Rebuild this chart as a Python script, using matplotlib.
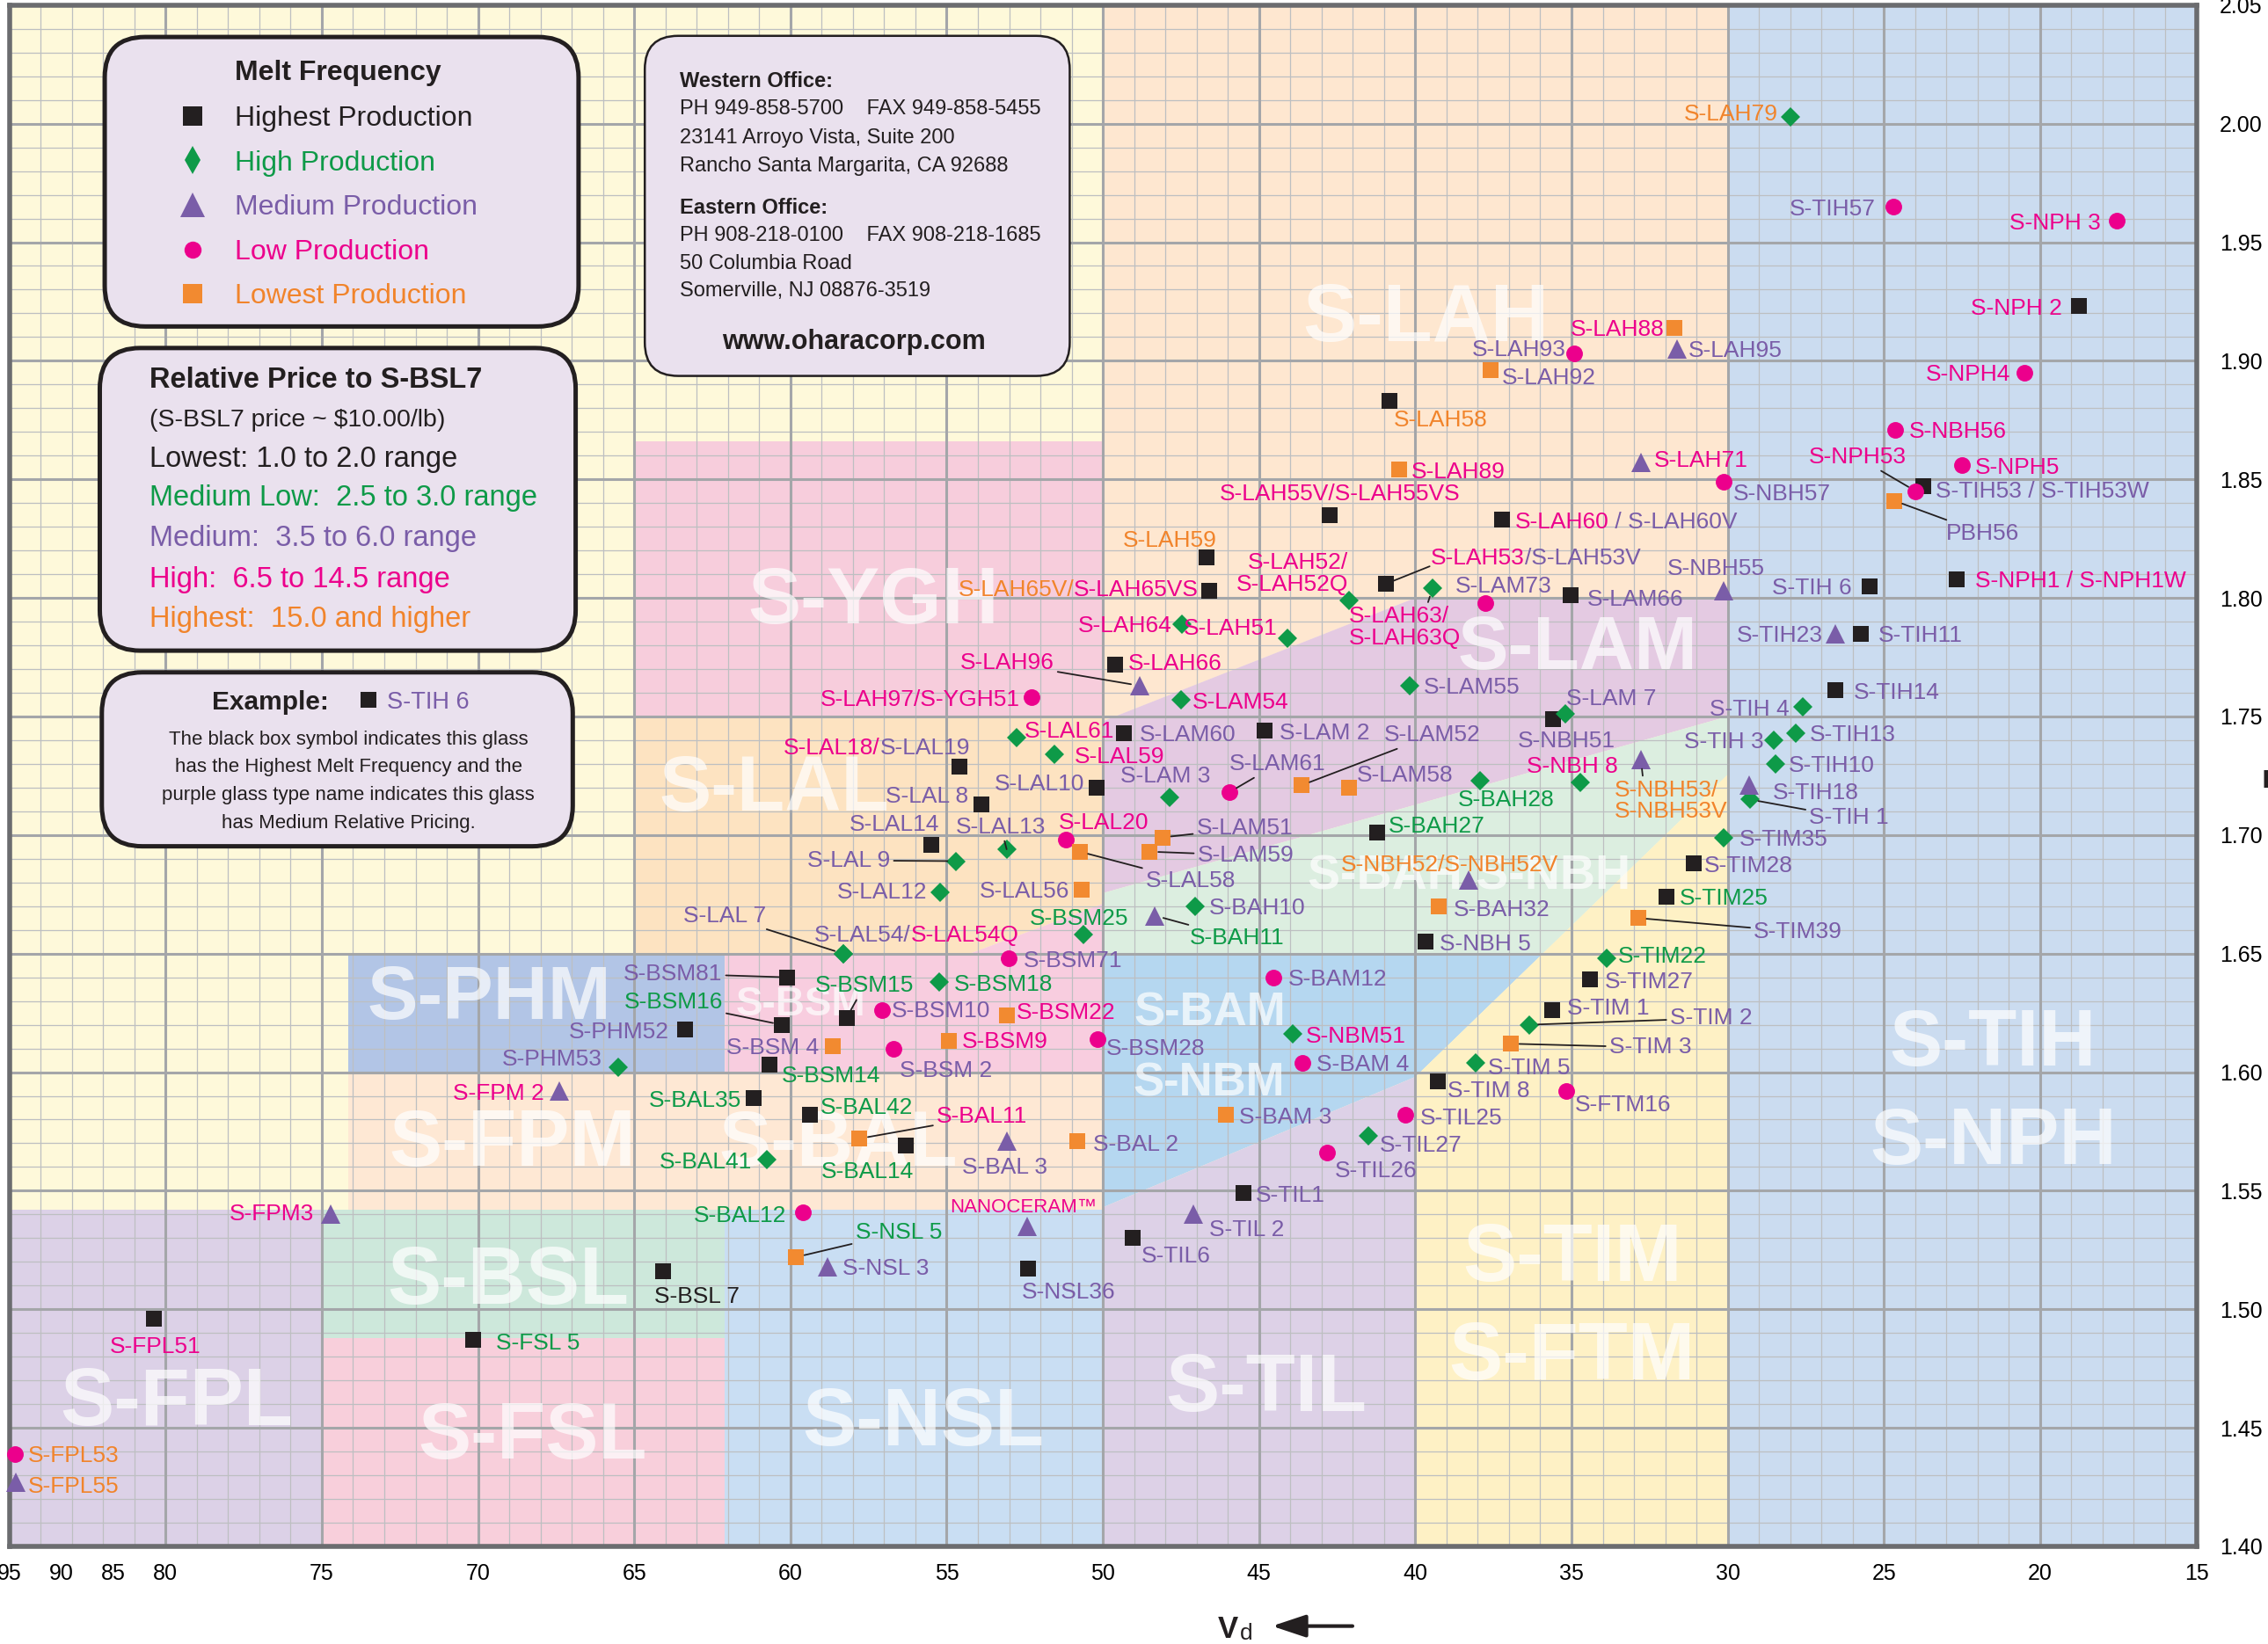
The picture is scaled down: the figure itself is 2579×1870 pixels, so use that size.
import numpy as np
import matplotlib
matplotlib.use("Agg")
import matplotlib.pyplot as plt
from matplotlib.patches import FancyBboxPatch, FancyArrowPatch, Polygon
from matplotlib.lines import Line2D
from matplotlib.ticker import NullLocator
from matplotlib import font_manager

plt.rcParams['font.family'] = ['Liberation Sans', 'DejaVu Sans']
_have = {f.name for f in font_manager.fontManager.ttflist}
NARROW = 'Liberation Sans Narrow' in _have

# ------------------------------------------------------------------ glasses
names = [
    'S-LAH79', 'S-TIH57', 'S-NPH 3', 'S-NPH 2', 'S-NPH4', 'S-NBH56', 'S-NPH5', 'S-TIH53 / S-TIH53W', 'S-NPH53', 'PBH56',
    'S-NBH57', 'S-LAH71', 'S-NPH1 / S-NPH1W', 'S-TIH 6', 'S-NBH55', 'S-TIH23', 'S-TIH11', 'S-TIH14', 'S-TIH 4', 'S-TIH13',
    'S-TIH 3', 'S-TIH10', 'S-TIH18', 'S-TIH 1', 'S-TIM35', 'S-TIM28', 'S-TIM25', 'S-TIM39', 'S-TIM22', 'S-TIM27',
    'S-TIM 1', 'S-TIM 2', 'S-TIM 3', 'S-TIM 5', 'S-TIM 8', 'S-FTM16', 'S-TIL25', 'S-TIL27', 'S-TIL26', 'S-TIL1',
    'S-TIL 2', 'S-TIL6', 'S-BAM 3', 'S-BAL 2', 'S-BAM 4', 'S-NBM51', 'S-BAM12', 'S-BSM28', 'S-NBH 5', 'S-BAH32',
    'S-NBH52/S-NBH52V', 'S-BAH10', 'S-BAH11', 'S-BAH27', 'S-BAH28', 'S-NBH 8', 'S-NBH51', 'S-LAM 7', 'S-NBH53/S-NBH53V', 'S-LAM55',
    'S-LAM66', 'S-LAM73', 'S-LAH53/S-LAH53V', 'S-LAH63/S-LAH63Q', 'S-LAH52/S-LAH52Q', 'S-LAH60/S-LAH60V', 'S-LAH55V/S-LAH55VS', 'S-LAH89', 'S-LAH58', 'S-LAH92',
    'S-LAH93', 'S-LAH88', 'S-LAH95', 'S-LAH59', 'S-LAH65V/S-LAH65VS', 'S-LAH64', 'S-LAH51', 'S-LAH66', 'S-LAH96', 'S-LAM54',
    'S-LAH97/S-YGH51', 'S-LAL61', 'S-LAM60', 'S-LAL59', 'S-LAL18/S-LAL19', 'S-LAL10', 'S-LAM 3', 'S-LAM 2', 'S-LAM61', 'S-LAM52',
    'S-LAM58', 'S-LAL 8', 'S-LAL14', 'S-LAL13', 'S-LAL20', 'S-LAL 9', 'S-LAL12', 'S-LAL56', 'S-LAL58', 'S-LAM51',
    'S-LAM59', 'S-BSM25', 'S-LAL 7', 'S-LAL54/S-LAL54Q', 'S-BSM71', 'S-BSM18', 'S-BSM15', 'S-BSM81', 'S-BSM16', 'S-PHM52',
    'S-PHM53', 'S-BSM10', 'S-BSM22', 'S-BSM9', 'S-BSM 2', 'S-BSM 4', 'S-BSM14', 'S-BAL35', 'S-BAL42', 'S-BAL11',
    'S-BAL14', 'S-BAL 3', 'S-BAL41', 'S-BAL12', 'NANOCERAM™', 'S-NSL 5', 'S-NSL 3', 'S-NSL36', 'S-BSL 7', 'S-FSL 5',
    'S-FPM 2', 'S-FPM3', 'S-FPL51', 'S-FPL53', 'S-FPL55',
]
vd = [
    28.00, 24.70, 17.56, 18.75, 20.51, 24.65, 22.49, 23.73, 23.98, 24.67,
    30.14, 32.78, 22.68, 25.46, 30.14, 26.55, 25.75, 26.56, 27.59, 27.83,
    28.52, 28.47, 29.31, 29.29, 30.14, 31.09, 31.95, 32.87, 33.87, 34.40,
    35.61, 36.34, 36.94, 38.08, 39.29, 35.18, 40.31, 41.50, 42.82, 45.51,
    47.10, 49.05, 46.06, 50.82, 43.62, 43.93, 44.54, 50.17, 39.68, 39.24,
    38.28, 47.06, 48.33, 41.23, 37.94, 34.71, 35.58, 35.21, 32.78, 40.19,
    35.04, 37.76, 40.93, 39.45, 42.11, 37.23, 42.73, 40.51, 40.84, 37.59,
    34.91, 31.71, 31.63, 46.69, 46.61, 47.46, 44.09, 49.62, 48.83, 47.50,
    52.27, 52.75, 49.33, 51.56, 54.58, 50.21, 47.86, 44.81, 45.96, 43.64,
    42.11, 53.90, 55.50, 53.08, 51.18, 54.70, 55.21, 50.69, 50.74, 48.09,
    48.50, 50.62, 58.32, 58.32, 53.01, 55.23, 58.20, 60.10, 60.29, 63.38,
    65.51, 57.08, 53.08, 54.93, 56.69, 58.64, 60.68, 61.18, 59.39, 57.79,
    56.30, 53.08, 60.75, 59.59, 52.42, 59.82, 58.81, 52.40, 64.09, 70.16,
    67.39, 74.72, 81.15, 94.49, 94.40,
]
nd = [
    2.003, 1.965, 1.959, 1.923, 1.895, 1.871, 1.856, 1.847, 1.845, 1.841,
    1.849, 1.857, 1.808, 1.805, 1.803, 1.785, 1.785, 1.761, 1.754, 1.743,
    1.740, 1.730, 1.721, 1.715, 1.699, 1.688, 1.674, 1.665, 1.648, 1.639,
    1.626, 1.620, 1.612, 1.604, 1.596, 1.592, 1.582, 1.573, 1.566, 1.549,
    1.540, 1.530, 1.582, 1.571, 1.604, 1.616, 1.640, 1.614, 1.655, 1.670,
    1.681, 1.670, 1.666, 1.701, 1.723, 1.722, 1.749, 1.751, 1.732, 1.763,
    1.801, 1.798, 1.806, 1.804, 1.799, 1.833, 1.835, 1.854, 1.883, 1.896,
    1.903, 1.914, 1.905, 1.817, 1.803, 1.789, 1.783, 1.772, 1.763, 1.757,
    1.758, 1.741, 1.743, 1.734, 1.729, 1.720, 1.716, 1.744, 1.718, 1.721,
    1.720, 1.713, 1.696, 1.694, 1.698, 1.689, 1.676, 1.677, 1.693, 1.699,
    1.693, 1.658, 1.650, 1.650, 1.648, 1.638, 1.623, 1.640, 1.620, 1.618,
    1.602, 1.626, 1.624, 1.613, 1.610, 1.611, 1.603, 1.589, 1.582, 1.572,
    1.569, 1.571, 1.563, 1.541, 1.535, 1.522, 1.518, 1.517, 1.516, 1.487,
    1.592, 1.540, 1.496, 1.439, 1.427,
]
# melt frequency: A highest ... E lowest
freq = list(
    'BDDADDDADE' 'DCAACCAABB' 'BBCBBAAEBA' 'ABEBADDBDA' 'CAEEDBDDAE'
    'CBCABBABCB' 'ADABBAAEAE' 'DECAABBACB' 'DBABAABADE' 'EAABDBBEEE'
    'EBBBDBAAAA' 'BDEEDEAAAE' 'ACBDCECAAA' 'CCADC'
)
# relative price class: 1 lowest ... 5 highest
price = [
    5, 3, 4, 4, 4, 4, 4, 3, 4, 3,
    3, 4, 4, 3, 3, 3, 3, 3, 3, 3,
    3, 3, 3, 3, 3, 3, 2, 3, 2, 3,
    3, 3, 3, 3, 3, 3, 3, 3, 3, 3,
    3, 3, 3, 3, 3, 4, 3, 3, 3, 3,
    5, 3, 2, 2, 2, 4, 3, 3, 5, 3,
    3, 3, 4, 4, 4, 4, 4, 4, 5, 3,
    3, 4, 3, 5, 5, 4, 4, 4, 4, 4,
    4, 4, 3, 4, 4, 3, 3, 3, 3, 3,
    3, 3, 3, 3, 4, 3, 3, 3, 3, 3,
    3, 2, 3, 3, 3, 2, 2, 3, 2, 3,
    3, 3, 4, 4, 3, 3, 2, 2, 2, 4,
    2, 3, 2, 2, 4, 2, 3, 3, 1, 2,
    4, 4, 4, 5, 5,
]
# labels printed in two price colours
SPLIT = {
    'S-LAH53/S-LAH53V': [('S-LAH53', 4), ('/S-LAH53V', 3)],
    'S-LAH60/S-LAH60V': [('S-LAH60', 4), (' / S-LAH60V', 3)],
    'S-LAH65V/S-LAH65VS': [('S-LAH65V/', 5), ('S-LAH65VS', 4)],
    'S-LAL18/S-LAL19': [('S-LAL18/', 4), ('S-LAL19', 3)],
    'S-LAL54/S-LAL54Q': [('S-LAL54/', 3), ('S-LAL54Q', 4)],
}
SHOW = {
    'S-LAH63/S-LAH63Q': 'S-LAH63/\nS-LAH63Q',
    'S-LAH52/S-LAH52Q': 'S-LAH52/\nS-LAH52Q',
    'S-NBH53/S-NBH53V': 'S-NBH53/\nS-NBH53V',
}

# glass-family background regions (vd, nd corners)
region_colors = ['#FEE7D0', '#CBDCF0', '#F7CDDC', '#FDE3C1', '#E4CAE2', '#DCEEE0', '#F8CDDF', '#B2C5E6',
                 '#B5D7F0', '#FEE8D4', '#DCD1E7', '#CDE8DB', '#F8CFDB', '#C9DEF3', '#DDD1E7', '#FEF1C5']
region_bounds = [
    [(50, 2.05), (30, 2.05), (30, 1.80), (40, 1.80), (50, 1.748)],                       # S-LAH
    [(30, 1.40), (15, 1.40), (15, 2.05), (30, 2.05)],                                    # S-TIH / S-NPH
    [(65, 1.866), (50, 1.866), (50, 1.75), (65, 1.75)],                                  # S-YGH
    [(65, 1.75), (50, 1.75), (50, 1.671), (54.26, 1.65), (65, 1.65)],                    # S-LAL
    [(50, 1.6755), (50, 1.748), (40, 1.80), (30, 1.80), (30, 1.75)],                     # S-LAM
    [(50, 1.65), (50, 1.6755), (30, 1.75), (30, 1.7255), (35.92, 1.65)],                 # S-BAH / S-NBH
    [(62.1, 1.60), (50, 1.60), (50, 1.671), (54.26, 1.65), (62.1, 1.65)],                # S-BSM
    [(74.15, 1.60), (62.1, 1.60), (62.1, 1.65), (74.15, 1.65)],                          # S-PHM
    [(50, 1.543), (40, 1.598), (35.92, 1.65), (50, 1.65)],                               # S-BAM / S-NBM
    [(74.15, 1.542), (50, 1.542), (50, 1.60), (74.15, 1.60)],                            # S-FPM / S-BAL
    [(95, 1.40), (75, 1.40), (75, 1.542), (95, 1.542)],                                  # S-FPL
    [(75, 1.488), (62.1, 1.488), (62.1, 1.542), (75, 1.542)],                            # S-BSL
    [(75, 1.40), (62.1, 1.40), (62.1, 1.488), (75, 1.488)],                              # S-FSL
    [(62.1, 1.40), (50, 1.40), (50, 1.542), (62.1, 1.542)],                              # S-NSL
    [(50, 1.40), (40, 1.40), (40, 1.598), (50, 1.543)],                                  # S-TIL
    [(40, 1.40), (30, 1.40), (30, 1.7255), (40, 1.598)],                                 # S-TIM / S-FTM
]
tag_text = ['S-LAH', 'S-YGH', 'S-LAL', 'S-LAM', 'S-BAH S-NBH', 'S-PHM', 'S-BSM', 'S-BAM', 'S-NBM', 'S-FPM',
            'S-BAL', 'S-BSL', 'S-FPL', 'S-FSL', 'S-NSL', 'S-TIL', 'S-TIM', 'S-FTM', 'S-TIH', 'S-NPH']
tag_vd = [39.65, 57.34, 60.53, 34.79, 38.27, 69.63, 59.68, 46.58, 46.60, 68.91,
          58.46, 69.03, 79.64, 68.26, 55.76, 44.77, 34.98, 34.98, 21.52, 21.49]
tag_nd = [1.9084, 1.7893, 1.7104, 1.7701, 1.6771, 1.6223, 1.6241, 1.6196, 1.5901, 1.5605,
          1.5605, 1.5024, 1.4510, 1.4369, 1.4428, 1.4570, 1.5121, 1.4704, 1.6029, 1.5612]
tag_size = [66, 65, 64, 62, 40, 62, 33, 38, 38, 65, 64, 66, 66, 65, 66, 66, 66, 66, 65, 65]

xticks = [95, 90, 85, 80, 75, 70, 65, 60, 55, 50, 45, 40, 35, 30, 25, 20, 15]
yticks = [1.40, 1.45, 1.50, 1.55, 1.60, 1.65, 1.70, 1.75, 1.80, 1.85, 1.90, 1.95, 2.00, 2.05]

# ------------------------------------------------------------------ styles
INK = '#231F20'
GREEN = '#0E9A48'
PURPLE = '#7A5DA8'
MAGENTA = '#EC008C'
ORANGE = '#F1842B'
PRICE_COLOR = {1: INK, 2: GREEN, 3: PURPLE, 4: MAGENTA, 5: ORANGE}
FREQ_STYLE = {
    'A': dict(marker='s', ms=13.0, color=INK),
    'B': dict(marker='D', ms=11.2, color=GREEN),
    'C': dict(marker='^', ms=16.5, color=PURPLE),
    'D': dict(marker='o', ms=13.6, color=MAGENTA),
    'E': dict(marker='s', ms=13.0, color='#F28A30'),
}
LABEL_FS = 19
K_PT = 1.6447 * 0.72          # reference pixel -> points
K_IN = 1.6447 / 100           # reference pixel -> inches
H_REF = 1137.0

# label layout: kind (r = right of mark, l = left, c = centred), dx, dy (reference px, down +)
LAYOUT = {
    'S-LAH79': ('l', -8.5, -3), 'S-TIH57': ('l', -12, 0), 'S-NPH 3': ('l', -11, 0), 'S-NPH 2': ('l', -12, 0),
    'S-NPH4': ('l', -9.5, 0), 'S-NBH56': ('r', 10, 0), 'S-NPH5': ('r', 9, 0), 'S-TIH53 / S-TIH53W': ('r', 8, 2),
    'S-NPH53': ('c', -40, -25, dict(line=True)), 'PBH56': ('r', 36, 21, dict(line=True)),
    'S-NBH57': ('r', 7, 7), 'S-LAH71': ('r', 9, -3), 'S-NPH1 / S-NPH1W': ('r', 13, 0), 'S-TIH 6': ('l', -12.5, 0),
    'S-NBH55': ('c', -5, -17), 'S-TIH23': ('l', -9, 0), 'S-TIH11': ('r', 12.6, 0), 'S-TIH14': ('r', 13, 0),
    'S-TIH 4': ('l', -9.5, 0), 'S-TIH13': ('r', 9.6, 0), 'S-TIH 3': ('l', -7, 0), 'S-TIH10': ('r', 9, 0),
    'S-TIH18': ('r', 16, 4), 'S-TIH 1': ('r', 41, 11, dict(line=True)), 'S-TIM35': ('r', 11, 0),
    'S-TIM28': ('r', 7, 0), 'S-TIM25': ('r', 9, 0), 'S-TIM39': ('r', 80, 8, dict(line=True)),
    'S-TIM22': ('r', 8, -3), 'S-TIM27': ('r', 10, 0), 'S-TIM 1': ('r', 10, -3),
    'S-TIM 2': ('r', 97, -6, dict(line=True)), 'S-TIM 3': ('r', 68, 1, dict(line=True)),
    'S-TIM 5': ('r', 9, 2), 'S-TIM 8': ('r', 7, 5), 'S-FTM16': ('r', 6.5, 8), 'S-TIL25': ('r', 10, 1),
    'S-TIL27': ('r', 8, 5), 'S-TIL26': ('r', 5, 11), 'S-TIL1': ('r', 8.5, 0), 'S-TIL 2': ('r', 11, 9),
    'S-TIL6': ('r', 6, 11), 'S-BAM 3': ('r', 9, 0), 'S-BAL 2': ('r', 11, 1), 'S-BAM 4': ('r', 10, 0),
    'S-NBM51': ('r', 9, 0), 'S-BAM12': ('r', 10, 0), 'S-BSM28': ('r', 6, 5), 'S-NBH 5': ('r', 10, 0),
    'S-BAH32': ('r', 10, 1), 'S-NBH52/S-NBH52V': ('c', -13.6, -12), 'S-BAH10': ('r', 10, 0),
    'S-BAH11': ('r', 24, 14, dict(line=True)), 'S-BAH27': ('r', 8, -6), 'S-BAH28': ('r', -15, 12),
    'S-NBH 8': ('c', -6, -13), 'S-NBH51': ('c', 9, 14), 'S-LAM 7': ('r', 1, -12),
    'S-NBH53/S-NBH53V': ('r', -18, 14, dict(va='top', line=True, rel=(0.25, 1.0), shrink=8)),
    'S-LAM55': ('r', 10, 0), 'S-LAM66': ('r', 12, 1), 'S-LAM73': ('r', -21, -13),
    'S-LAH53/S-LAH53V': ('r', 31, -19, dict(line=True, start=(30, -12))),
    'S-LAH63/S-LAH63Q': ('r', -58, 12, dict(va='top', line=True, rel=(0.7, 1.0))),
    'S-LAH52/S-LAH52Q': ('l', -1, -18.5, dict(va='center')),
    'S-LAH60/S-LAH60V': ('r', 9, 0), 'S-LAH55V/S-LAH55VS': ('c', 7, -16), 'S-LAH89': ('r', 8, 0),
    'S-LAH58': ('r', 3, 12), 'S-LAH92': ('r', 8, 4), 'S-LAH93': ('l', -5.5, -4), 'S-LAH88': ('l', -7, 0),
    'S-LAH95': ('r', 8, 0), 'S-LAH59': ('c', -25, -13), 'S-LAH65V/S-LAH65VS': ('l', -7, -2),
    'S-LAH64': ('l', -7, 0), 'S-LAH51': ('l', -7, -8), 'S-LAH66': ('r', 9, -2),
    'S-LAH96': ('l', -59, -17, dict(line=True)), 'S-LAM54': ('r', 8, 0), 'S-LAH97/S-YGH51': ('l', -8.5, 0),
    'S-LAL61': ('r', 5, -6), 'S-LAM60': ('r', 11, 0), 'S-LAL59': ('r', 14, 0), 'S-LAL18/S-LAL19': ('l', 7, -14),
    'S-LAL10': ('l', -8, -4), 'S-LAM 3': ('c', -3, -16), 'S-LAM 2': ('r', 10, 0),
    'S-LAM61': ('r', 0, -21, dict(line=True)), 'S-LAM52': ('r', 57, -36, dict(line=True)),
    'S-LAM58': ('r', 5, -10), 'S-LAL 8': ('l', -9, -7), 'S-LAL14': ('l', 6, -15),
    'S-LAL13': ('c', -4, -17, dict(line=True)), 'S-LAL20': ('r', -5, -13),
    'S-LAL 9': ('l', -45.5, -2, dict(line=True)), 'S-LAL12': ('l', -9, -1), 'S-LAL56': ('l', -8, 0),
    'S-LAL58': ('r', 45.7, 18.7, dict(line=True)), 'S-LAM51': ('r', 23.5, -8, dict(line=True)),
    'S-LAM59': ('r', 33, 1, dict(line=True)), 'S-BSM25': ('c', -3, -12.4),
    'S-LAL 7': ('l', -53, -27.6, dict(line=True)), 'S-LAL54/S-LAL54Q': ('r', -20, -14),
    'S-BSM71': ('r', 10, 0), 'S-BSM18': ('r', 10, 0), 'S-BSM15': ('r', -22, -23.5, dict(line=True)),
    'S-BSM81': ('l', -45, -4, dict(line=True)), 'S-BSM16': ('l', -40.6, -17, dict(line=True)),
    'S-PHM52': ('l', -10.8, 0), 'S-PHM53': ('l', -11.4, -7), 'S-BSM10': ('r', 7, -1),
    'S-BSM22': ('r', 6.5, -3), 'S-BSM9': ('r', 9, -1), 'S-BSM 2': ('r', 4, 13.7), 'S-BSM 4': ('l', -9.7, 0),
    'S-BSM14': ('r', 8.7, 6.4), 'S-BAL35': ('l', -8.6, 0), 'S-BAL42': ('r', 7.7, -6.4),
    'S-BAL11': ('r', 53.3, -16.6, dict(line=True)), 'S-BAL14': ('l', 5.5, 16.6), 'S-BAL 3': ('c', -1.5, 16.6),
    'S-BAL41': ('l', -10.2, 0), 'S-BAL12': ('l', -11.6, 1), 'NANOCERAM™': ('c', -3, -14.6, dict(fs=16)),
    'S-NSL 5': ('r', 41, -18.3, dict(line=True)), 'S-NSL 3': ('r', 10.5, 0), 'S-NSL36': ('r', -4.3, 14.6),
    'S-BSL 7': ('r', -5.6, 16), 'S-FSL 5': ('r', 16, 1), 'S-FPM 2': ('l', -10.8, 0), 'S-FPM3': ('l', -11.5, -2),
    'S-FPL51': ('c', 1.3, 17.8), 'S-FPL53': ('r', 9, 0), 'S-FPL55': ('r', 8.5, 1.6),
}


def fwd(x):
    x = np.asarray(x, dtype=float)
    return np.where(x > 80, 80 + (x - 80) / 3.0, x)


def inv(u):
    u = np.asarray(u, dtype=float)
    return np.where(u > 80, 80 + (u - 80) * 3.0, u)


fig = plt.figure(figsize=(25.79, 18.70), dpi=100)
ax = fig.add_axes([10.7 / 2579, 111 / 1870, (2497.5 - 10.7) / 2579, 1753.2 / 1870])
ax.set_xscale('function', functions=(fwd, inv))
ax.set_xlim(95, 15)
ax.set_ylim(1.40, 2.05)
ax.set_facecolor('#FEF9DA')

for col, verts in zip(region_colors, region_bounds):
    ax.add_patch(Polygon(verts, closed=True, fc=col, ec='none', zorder=0.2))

# grid
minor_x = [v for v in range(16, 80) if v % 5] + [83, 86, 89, 92]
major_x = list(range(20, 81, 5))
minor_y = [round(1.40 + 0.01 * k, 2) for k in range(1, 65) if k % 5]
major_y = [round(1.40 + 0.05 * k, 2) for k in range(1, 13)]
ax.vlines(minor_x, 1.40, 2.05, colors='#BDBFC1', lw=0.9, zorder=0.5)
ax.hlines(minor_y, 95, 15, colors='#BDBFC1', lw=0.9, zorder=0.5)
ax.vlines(major_x, 1.40, 2.05, colors='#A4A6A9', lw=2.2, zorder=0.6)
ax.hlines(major_y, 95, 15, colors='#A4A6A9', lw=2.2, zorder=0.6)

for t, x, y, s in zip(tag_text, tag_vd, tag_nd, tag_size):
    ax.text(x, y, t, ha='center', va='baseline', fontsize=s, fontweight='bold',
            color='white', alpha=0.7, zorder=1)

# markers
for code in 'ABCDE':
    idx = [i for i, f in enumerate(freq) if f == code]
    ax.plot([vd[i] for i in idx], [nd[i] for i in idx], ls='none', mew=0, clip_on=False,
            zorder=4 + 'ABCDE'.index(code) * 0.1, **FREQ_STYLE[code])

# labels
ALIGN = {'r': 'left', 'l': 'right', 'c': 'center'}
for i, name in enumerate(names):
    spec = LAYOUT[name]
    kind, dx, dy = spec[:3]
    opt = spec[3] if len(spec) > 3 else {}
    ha = ALIGN[kind]
    va = opt.get('va', 'center_baseline')
    fs = opt.get('fs', LABEL_FS)
    parts = SPLIT.get(name, [(SHOW.get(name, name), price[i])])
    order = parts[::-1] if ha == 'right' else parts
    off = (dx * K_PT, -dy * K_PT)
    arrow = None
    if opt.get('line'):
        arrow = dict(arrowstyle='-', color=INK, lw=1.3, shrinkA=1, shrinkB=opt.get('shrink', 7),
                     relpos=opt.get('rel', (0.5, 0.5)))
    if opt.get('line') and len(parts) > 1:
        # two-colour label: leader drawn on its own from a fixed start point
        sx, sy = opt['start']
        ax.annotate('', xy=(vd[i], nd[i]), xytext=(sx * K_PT, -sy * K_PT), textcoords='offset points',
                    arrowprops=dict(arrowstyle='-', color=INK, lw=1.3, shrinkA=0, shrinkB=6),
                    zorder=5.5, annotation_clip=False)
        arrow = None
    txt, p = order[0]
    t = ax.annotate(txt, xy=(vd[i], nd[i]), xytext=off, textcoords='offset points',
                    ha=ha, va=va, color=PRICE_COLOR[p], fontsize=fs, multialignment=ha,
                    linespacing=1.05, arrowprops=arrow, zorder=6, annotation_clip=False)
    for txt, p in order[1:]:
        if ha == 'right':
            t = ax.annotate(txt, xy=(0, 0), xycoords=t, ha='right', va='bottom', color=PRICE_COLOR[p],
                            fontsize=fs, zorder=6)
        else:
            t = ax.annotate(txt, xy=(1, 0), xycoords=t, ha='left', va='bottom', color=PRICE_COLOR[p],
                            fontsize=fs, zorder=6)

# axes, ticks
tick_family = ['Liberation Sans Narrow'] if NARROW else ['Liberation Sans']
tick_fs = 21.5 if NARROW else 18
ax.xaxis.set_minor_locator(NullLocator())
ax.yaxis.set_minor_locator(NullLocator())
ax.set_xticks(xticks)
ax.set_xticklabels([str(v) for v in xticks], fontfamily=tick_family, fontsize=tick_fs)
ax.yaxis.tick_right()
ax.set_yticks(yticks)
ax.set_yticklabels(['%.2f' % v for v in yticks], fontfamily=tick_family, fontsize=tick_fs)
ax.tick_params(axis='x', length=0, pad=14)
ax.tick_params(axis='y', length=0, pad=19)
for sp in ax.spines.values():
    sp.set_linewidth(4)
    sp.set_color('#6B6C6F')
    sp.set_zorder(3)


# ------------------------------------------------------------------ info boxes
def FT(px, py, s, **kw):
    kw.setdefault('zorder', 11)
    return fig.text(px * K_IN, (H_REF - py) * K_IN, s, transform=fig.dpi_scale_trans, **kw)


def box(x0, y0, x1, y1, lw, r):
    fig.add_artist(FancyBboxPatch((x0 * K_IN, (H_REF - y1) * K_IN), (x1 - x0) * K_IN, (y1 - y0) * K_IN,
                                  boxstyle='round,pad=0,rounding_size=%.3f' % r, transform=fig.dpi_scale_trans,
                                  fc='#EAE1EE', ec=INK, lw=lw, zorder=10))


def mark(px, py, **kw):
    fig.add_artist(Line2D([px * K_IN], [(H_REF - py) * K_IN], transform=fig.dpi_scale_trans,
                          ls='none', mew=0, zorder=11, **kw))


box(72.4, 25.6, 400, 225.8, 3.6, 0.46)
box(69, 240.7, 398, 450, 3.6, 0.46)
box(70.4, 465, 396, 585.3, 3.6, 0.46)
box(445.8, 24.8, 739.6, 260, 1.8, 0.38)

FT(162.5, 48.4, 'Melt Frequency', fontsize=23, fontweight='bold', color=INK, va='center_baseline')
leg_rows = [('Highest Production', INK, dict(marker='s', ms=15.8, color=INK)),
            ('High Production', GREEN, dict(marker='d', ms=16, color=GREEN)),
            ('Medium Production', PURPLE, dict(marker='^', ms=20, color=PURPLE)),
            ('Low Production', MAGENTA, dict(marker='o', ms=14, color=MAGENTA)),
            ('Lowest Production', ORANGE, dict(marker='s', ms=15.8, color='#F28A30'))]
for (txt, col, mk), yy in zip(leg_rows, [80.1, 110.9, 141.4, 172.5, 203.0]):
    mark(133, yy, **mk)
    FT(162.5, yy, txt, fontsize=23, color=col, va='center_baseline')

FT(103.6, 261, 'Relative Price to S-BSL7', fontsize=23.5, fontweight='bold', color=INK, va='center_baseline')
FT(103.6, 289, r'(S-BSL7 price ~ \$10.00/lb)', fontsize=20.5, color=INK, va='center_baseline')
price_rows = [('Lowest: 1.0 to 2.0 range', INK, 315.6),
              ('Medium Low:  2.5 to 3.0 range', GREEN, 342.4),
              ('Medium:  3.5 to 6.0 range', PURPLE, 370.2),
              ('High:  6.5 to 14.5 range', MAGENTA, 398.7),
              ('Highest:  15.0 and higher', ORANGE, 426.5)]
for txt, col, yy in price_rows:
    FT(103.6, yy, txt, fontsize=23.5, color=col, va='center_baseline')

FT(146.3, 484, 'Example:', fontsize=21.5, fontweight='bold', color=INK, va='center_baseline')
mark(255, 484, marker='s', ms=13, color=INK)
FT(267.4, 484, 'S-TIH 6', fontsize=19.5, color=PURPLE, va='center_baseline')
body = ['The black box symbol indicates this glass', 'has the Highest Melt Frequency and the',
        'purple glass type name indicates this glass', 'has Medium Relative Pricing.']
body_family = ['Liberation Sans Narrow'] if NARROW else ['Liberation Sans']
body_fs = 19.5 if NARROW else 16
for txt, yy in zip(body, [510.4, 529.2, 548.2, 567.7]):
    FT(241, yy, txt, fontsize=body_fs, fontfamily=body_family, color=INK, ha='center', va='center_baseline')

addr = [('Western Office:', 54.6, True), ('PH 949-858-5700    FAX 949-858-5455', 73.9, False),
        ('23141 Arroyo Vista, Suite 200', 93.8, False), ('Rancho Santa Margarita, CA 92688', 113.4, False),
        ('Eastern Office:', 142.2, True), ('PH 908-218-0100    FAX 908-218-1685', 161.3, False),
        ('50 Columbia Road', 180.6, False), ('Somerville, NJ 08876-3519', 200.0, False)]
for txt, yy, bold in addr:
    FT(469.7, yy, txt, fontsize=17, fontweight='bold' if bold else 'normal', color=INK, va='center_baseline')
FT(590.2, 234.5, 'www.oharacorp.com', fontsize=22, fontweight='bold', color=INK, ha='center', va='center_baseline')

# axis titles
FT(842, 1125, 'V', fontsize=25, fontweight='bold', color=INK, va='center_baseline')
FT(857.5, 1128, 'd', fontsize=19, color=INK, va='center_baseline')
fig.add_artist(FancyArrowPatch((936.8 * K_IN, (H_REF - 1124.6) * K_IN), (877.8 * K_IN, (H_REF - 1124.6) * K_IN),
                               transform=fig.dpi_scale_trans, arrowstyle='-|>,head_length=0.9,head_width=0.3',
                               mutation_scale=26, lw=3, color=INK, zorder=11))
FT(1563.5, 536.5, 'n', fontsize=26, fontweight='bold', color=INK, va='center_baseline')

fig.savefig('out.png', dpi=100)
